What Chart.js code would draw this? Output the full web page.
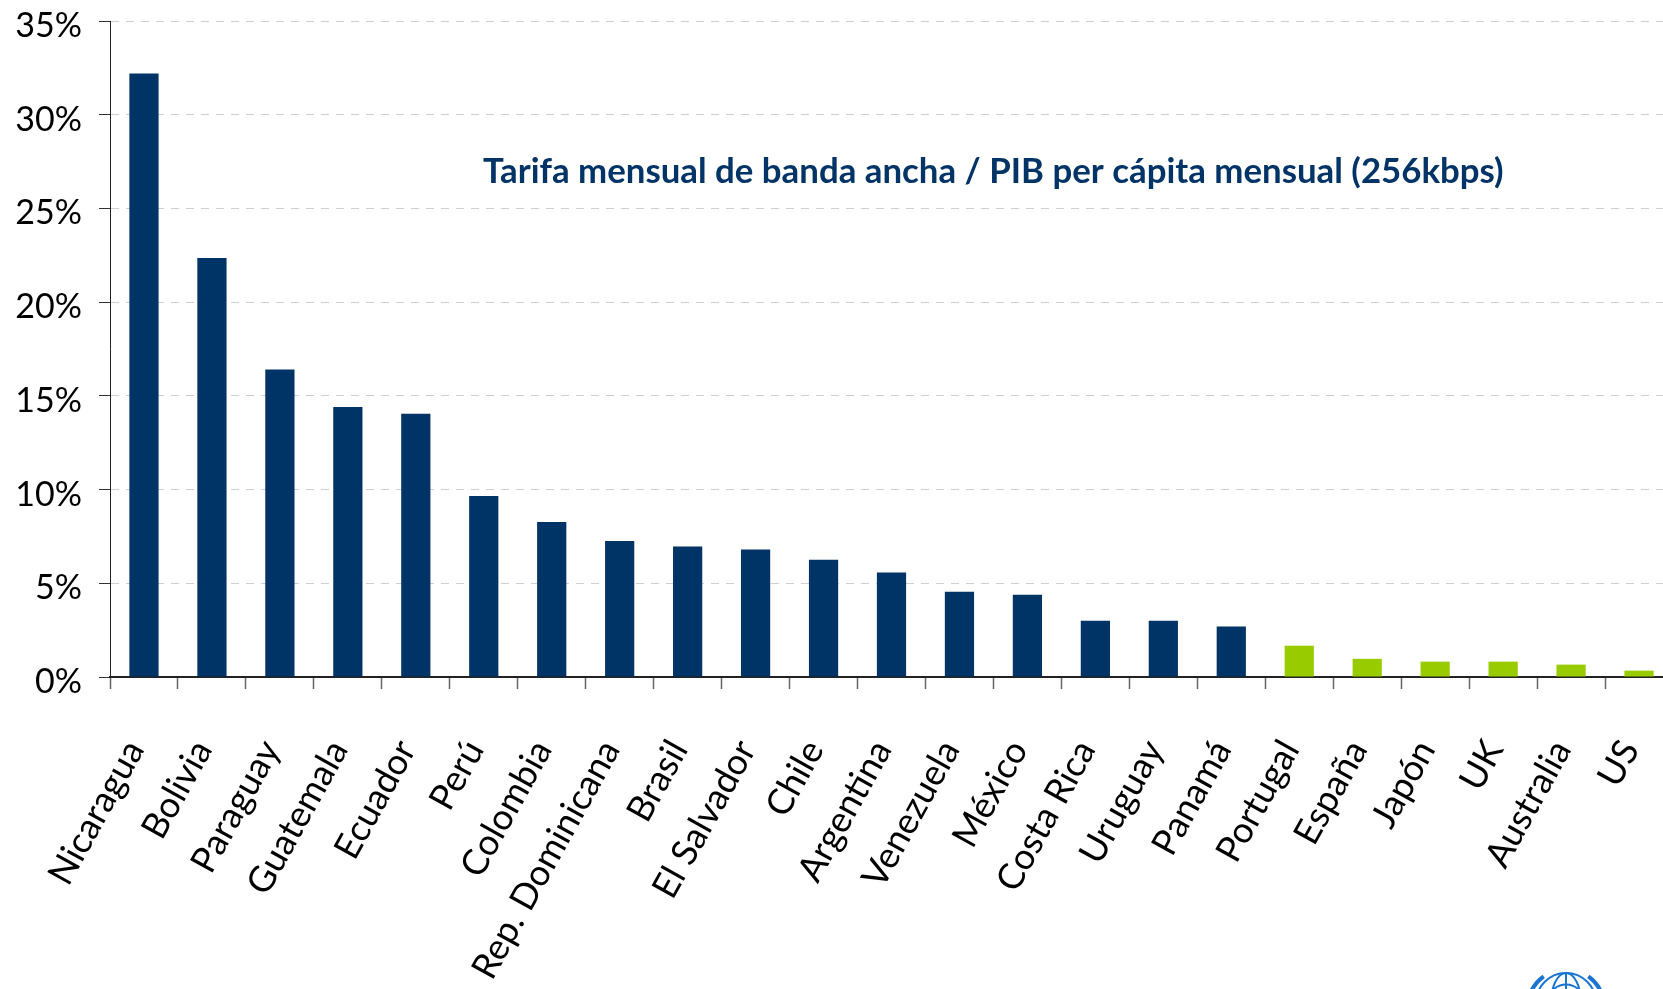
<!DOCTYPE html>
<html><head><meta charset="utf-8">
<script src="https://cdn.jsdelivr.net/npm/chart.js@4.4.0/dist/chart.umd.min.js"></script>
<style>
html,body{margin:0;padding:0;background:#fff;overflow:hidden;width:1663px;height:989px}
canvas{display:block}
</style></head>
<body><canvas id="c" width="1680" height="989"></canvas>
<script>
// ---- data ----
const categories = ['Nicaragua','Bolivia','Paraguay','Guatemala','Ecuador','Perú','Colombia','Rep. Dominicana','Brasil','El Salvador','Chile','Argentina','Venezuela','México','Costa Rica','Uruguay','Panamá','Portugal','España','Japón','UK','Australia','US'];
const values = [32.2, 22.35, 16.4, 14.4, 14.05, 9.66, 8.27, 7.25, 6.96, 6.8, 6.26, 5.57, 4.55, 4.39, 3.0, 3.0, 2.69, 1.67, 0.97, 0.82, 0.82, 0.66, 0.34];
const groups = ['ALC','ALC','ALC','ALC','ALC','ALC','ALC','ALC','ALC','ALC','ALC','ALC','ALC','ALC','ALC','ALC','ALC','OCDE','OCDE','OCDE','OCDE','OCDE','OCDE'];
const yTickValues = [0, 5, 10, 15, 20, 25, 30, 35];
const titleText = 'Tarifa mensual de banda ancha / PIB per cápita mensual (256kbps)';

// ---- styles ----
const groupColors = { ALC: '#003366', OCDE: '#99CC00' };
const FONT = 'Lato';

const titlePlugin = {
  id: 'innerTitle',
  afterDatasetsDraw(chart) {
    const ctx = chart.ctx;
    ctx.save();
    let size = 32;
    ctx.font = `bold ${size}px ${FONT}`;
    const w = ctx.measureText(titleText).width;
    size = size * 1021 / w;
    ctx.font = `bold ${size}px ${FONT}`;
    ctx.fillStyle = '#003366';
    ctx.textAlign = 'left';
    ctx.textBaseline = 'alphabetic';
    ctx.fillText(titleText, 483, 183);
    ctx.restore();
  }
};

const logoPlugin = {
  id: 'unLogo',
  afterDraw(chart) {
    const ctx = chart.ctx;
    const cx = 1566, cy = 1003, r = 30;
    ctx.save();
    ctx.strokeStyle = '#1c74d1';
    ctx.lineWidth = 2;
    ctx.beginPath(); ctx.arc(cx, cy, r, 0, Math.PI * 2); ctx.stroke();
    ctx.beginPath(); ctx.arc(cx, cy, r * 0.62, 0, Math.PI * 2); ctx.stroke();
    ctx.beginPath(); ctx.moveTo(cx - r, cy); ctx.lineTo(cx + r, cy); ctx.stroke();
    ctx.beginPath(); ctx.moveTo(cx, cy - r); ctx.lineTo(cx, cy + r); ctx.stroke();
    ctx.beginPath(); ctx.ellipse(cx, cy, r * 0.5, r, 0, 0, Math.PI * 2); ctx.stroke();
    ctx.lineWidth = 4;
    ctx.beginPath(); ctx.arc(cx, cy + 4, r + 8, Math.PI * 1.02, Math.PI * 1.3); ctx.stroke();
    ctx.beginPath(); ctx.arc(cx, cy + 4, r + 8, Math.PI * 1.7, Math.PI * 1.98); ctx.stroke();
    ctx.restore();
  }
};

new Chart(document.getElementById('c'), {
  type: 'bar',
  data: {
    labels: categories,
    datasets: [{
      data: values,
      backgroundColor: ctx => groupColors[groups[ctx.dataIndex]],
      borderWidth: 0,
      barPercentage: 0.43,
      categoryPercentage: 1.0
    }]
  },
  options: {
    responsive: false,
    devicePixelRatio: 1,
    animation: false,
    layout: { padding: { top: 21, right: 7, left: 0, bottom: 0 } },
    plugins: { legend: { display: false }, tooltip: { enabled: false }, title: { display: false } },
    scales: {
      x: {
        offset: true,
        grid: { display: true, drawOnChartArea: false, offset: true, tickLength: 12, tickColor: '#666', tickWidth: 1.5 },
        border: { display: true, color: '#222', width: 2 },
        ticks: { autoSkip: false, minRotation: 61, maxRotation: 61, padding: 44, labelOffset: -9, color: '#000', font: { family: FONT, size: 36 } },
        afterFit: s => { s.height = 312; s.paddingLeft = 0; s.paddingRight = 0; }
      },
      y: {
        min: 0, max: 35,
        afterBuildTicks: s => { s.ticks = yTickValues.map(v => ({ value: v })); },
        grid: { color: '#cfcfcf', lineWidth: 1, tickLength: 11, tickColor: '#333', tickWidth: 1, tickBorderDash: [] },
        border: { display: true, color: '#222', width: 1, dash: [8, 7] },
        ticks: { padding: 17, labelOffset: 5, color: '#000', font: { family: FONT, size: 34 }, callback: v => v + '%' },
        afterFit: s => { s.width = 110; s.paddingTop = 0; s.paddingBottom = 0; }
      }
    }
  },
  plugins: [titlePlugin, logoPlugin]
});
</script>
</body></html>
